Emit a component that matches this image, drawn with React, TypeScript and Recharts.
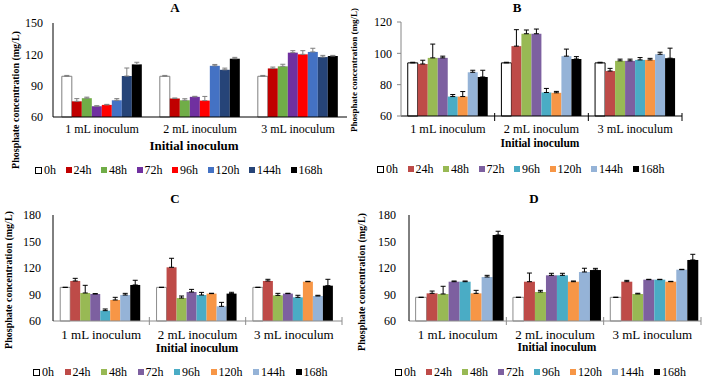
import React from 'react';
import { BarChart, Bar, XAxis, YAxis, ErrorBar } from 'recharts';

const SERIF = "'Liberation Serif', 'Times New Roman', serif";

const categories = ['1 mL inoculum', '2 mL inoculum', '3 mL inoculum'];
const seriesLabels = ['0h', '24h', '48h', '72h', '96h', '120h', '144h', '168h'];

const colorsA = ['#FFFFFF', '#C00000', '#70AD47', '#7030A0', '#FF0000', '#4472C4', '#264478', '#000000'];
const colorsBCD = ['#FFFFFF', '#BE4B48', '#98B954', '#7D60A0', '#4AACC5', '#F79646', '#95B3D7', '#000000'];

const ticksA = [60, 90, 120, 150];
const ticksB = [60, 80, 100, 120];
const ticksCD = [60, 90, 120, 150, 180];

// rows = inoculum groups, columns = 0h..168h
const valuesA = [
  [99, 75, 78, 70.3, 71.6, 76, 99.2, 110.4],
  [99, 77.7, 76, 79.3, 75.7, 109, 105.2, 115.8],
  [99, 106.5, 108.5, 121.6, 120, 122.3, 117.4, 118.4],
];
const errorsA = [
  [0.8, 2.6, 1, 0.5, 0.5, 1.6, 7.7, 2],
  [0.8, 0.5, 1.5, 0.5, 4, 1.3, 1.6, 1.3],
  [0.8, 1.3, 2, 1.9, 3.5, 3.5, 1.6, 0.6],
];

const valuesB = [
  [93.9, 93.2, 97.1, 97.1, 72.4, 72.4, 87.9, 84.9],
  [93.9, 104.6, 112.5, 112.5, 75, 74.8, 98.2, 96.4],
  [93.9, 88.7, 95.2, 95.2, 95.8, 95.8, 99.4, 96.9],
];
const errorsB = [
  [0.4, 2.4, 8.8, 1.1, 1.3, 3.2, 1.3, 4.3],
  [0.4, 10.5, 2.4, 3, 2.6, 0.9, 4.5, 1.5],
  [0.4, 1.7, 1.1, 1.1, 1.5, 1, 1.3, 6.4],
];

const valuesC = [
  [98.1, 105.3, 91.7, 90.6, 71.7, 83.8, 89.4, 100.8],
  [98.1, 120.8, 86, 92.8, 89.4, 91, 76.6, 91],
  [98.1, 105.3, 89, 91, 86.8, 104.5, 88.3, 100],
];
const errorsC = [
  [0, 3, 8.7, 0.4, 1.9, 3, 1.9, 5.3],
  [0, 10.2, 2.3, 3, 3, 0.4, 4.5, 1.5],
  [0, 1.9, 2.3, 0.4, 2.3, 0.4, 0.8, 7.2],
];

const valuesD = [
  [86.8, 91.3, 90.6, 104.5, 104.5, 91.3, 109.8, 157.4],
  [86.8, 104.5, 92.8, 111.7, 111.7, 104.5, 115.5, 117.7],
  [86.8, 104.5, 90.6, 106.8, 106.8, 104.5, 118.1, 129.1],
];
const errorsD = [
  [0, 2.6, 8.7, 0.8, 0.8, 3.4, 1.9, 4.2],
  [0, 9.8, 1.9, 2.3, 2.3, 0.8, 4.2, 1.9],
  [0, 1.5, 0.8, 0.4, 0.4, 0.4, 0.4, 6.4],
];

function buildData(values: number[][], errors: number[][]) {
  return categories.map((name, i) => {
    const row: any = { name };
    seriesLabels.forEach((_, j) => {
      row['v' + j] = values[i][j];
      row['e' + j] = [0, errors[i][j]];
    });
    return row;
  });
}

type PanelProps = {
  data: any[];
  colors: string[];
  domain: [number, number];
  ticks: number[];
  plotLeft: number;
  plotTop: number;
  plotW: number;
  plotH: number;
  catGap: string;
  yAxisColor: string;
  xAxisColor: string;
  yTickLine: boolean;
  yTickSize: number;
  yTickMargin: number;
  boundary: boolean;
  btUp: number;
  btDown: number;
  xLabelDy: number;
  xTickFont: number;
  zeroStroke: string;
  errColor: string;
};

function Panel(p: PanelProps) {
  const yw = 50, mt = 10, mr = 6, xh = 40;
  const width = yw + p.plotW + mr;
  const height = mt + p.plotH + xh;
  const band = p.plotW / 3;
  const renderXTick = (props: any) => {
    const { x, y, payload } = props;
    return (
      <g>
        {p.boundary && (
          <line x1={x + band / 2} x2={x + band / 2} y1={y - p.btUp} y2={y + p.btDown} stroke={p.xAxisColor} strokeWidth={1} />
        )}
        <text x={x} y={y + p.xLabelDy} dy="0.355em" textAnchor="middle" fontSize={p.xTickFont} fontFamily={SERIF} fill="#000">
          {payload.value}
        </text>
      </g>
    );
  };
  return (
    <div style={{ position: 'absolute', left: p.plotLeft - yw, top: p.plotTop - mt }}>
      <BarChart
        width={width}
        height={height}
        data={p.data}
        margin={{ top: mt, right: mr, left: 0, bottom: 0 }}
        barGap={0}
        barCategoryGap={p.catGap}
      >
        <XAxis
          dataKey="name"
          height={xh}
          tickLine={false}
          tickSize={0}
          tickMargin={0}
          axisLine={{ stroke: p.xAxisColor, strokeWidth: 1 }}
          tick={renderXTick}
          interval={0}
        />
        <YAxis
          width={yw}
          domain={p.domain}
          ticks={p.ticks}
          type="number"
          tickLine={p.yTickLine ? { stroke: p.yAxisColor } : false}
          tickSize={p.yTickSize}
          tickMargin={p.yTickMargin}
          axisLine={{ stroke: p.yAxisColor, strokeWidth: 1 }}
          tick={{ fontSize: 12, fill: '#000', fontFamily: SERIF }}
          interval={0}
        />
        {seriesLabels.map((s, j) => (
          <Bar
            key={s}
            dataKey={'v' + j}
            fill={p.colors[j]}
            stroke={j === 0 ? p.zeroStroke : 'none'}
            strokeWidth={1}
            isAnimationActive={false}
          >
            <ErrorBar dataKey={'e' + j} direction="y" width={2.5} stroke={p.errColor} strokeWidth={1} />
          </Bar>
        ))}
      </BarChart>
    </div>
  );
}

function Txt(props: { x: number; y: number; size: number; bold?: boolean; rotate?: boolean; children: React.ReactNode }) {
  return (
    <div
      style={{
        position: 'absolute',
        left: props.x,
        top: props.y,
        transform: `translate(-50%, -50%)${props.rotate ? ' rotate(-90deg)' : ''}`,
        whiteSpace: 'nowrap',
        fontFamily: SERIF,
        fontSize: props.size,
        fontWeight: props.bold ? 'bold' : 'normal',
        color: '#000',
        lineHeight: 1,
      }}
    >
      {props.children}
    </div>
  );
}

function Legend(props: { x: number; y: number; colors: string[]; gap: number; zeroBorder: string }) {
  return (
    <div
      style={{
        position: 'absolute',
        left: props.x,
        top: props.y - 7,
        height: 14,
        display: 'flex',
        alignItems: 'center',
        gap: props.gap,
        fontFamily: SERIF,
        fontSize: 12,
        color: '#000',
        whiteSpace: 'nowrap',
      }}
    >
      {seriesLabels.map((s, j) => (
        <div key={s} style={{ display: 'flex', alignItems: 'center' }}>
          <span
            style={{
              display: 'inline-block',
              width: j === 0 ? 5 : 6,
              height: j === 0 ? 5 : 6,
              background: props.colors[j],
              border: j === 0 ? `1px solid ${props.zeroBorder}` : 'none',
              marginRight: 2,
            }}
          />
          <span>{s}</span>
        </div>
      ))}
    </div>
  );
}

const dataA = buildData(valuesA, errorsA);
const dataB = buildData(valuesB, errorsB);
const dataC = buildData(valuesC, errorsC);
const dataD = buildData(valuesD, errorsD);

export default function App() {
  return (
    <div style={{ position: 'absolute', left: 0, top: 0, width: 705, height: 377, background: '#fff', overflow: 'hidden' }}>
      <Panel
        data={dataA} colors={colorsA} domain={[60, 150]} ticks={ticksA}
        plotLeft={53} plotTop={23} plotW={294} plotH={94} catGap="9%"
        yAxisColor="#000" xAxisColor="#000" yTickLine={false} yTickSize={5} yTickMargin={5}
        boundary={false} btUp={0} btDown={0} xLabelDy={12} xTickFont={12}
        zeroStroke="#7f7f7f" errColor="#7f7f7f"
      />
      <Panel
        data={dataB} colors={colorsBCD} domain={[60, 120]} ticks={ticksB}
        plotLeft={401} plotTop={22} plotW={281} plotH={94} catGap="7.2%"
        yAxisColor="#868686" xAxisColor="#000" yTickLine={true} yTickSize={4} yTickMargin={5}
        boundary={true} btUp={3} btDown={5} xLabelDy={13} xTickFont={12.3}
        zeroStroke="#000" errColor="#000"
      />
      <Panel
        data={dataC} colors={colorsBCD} domain={[60, 180]} ticks={ticksCD}
        plotLeft={53} plotTop={215} plotW={289} plotH={106} catGap="7.5%"
        yAxisColor="#000" xAxisColor="#8c8c8c" yTickLine={false} yTickSize={5} yTickMargin={7}
        boundary={true} btUp={4} btDown={4} xLabelDy={13} xTickFont={13}
        zeroStroke="#8c8c8c" errColor="#000"
      />
      <Panel
        data={dataD} colors={colorsBCD} domain={[60, 180]} ticks={ticksCD}
        plotLeft={409} plotTop={215} plotW={292} plotH={106} catGap="6.8%"
        yAxisColor="#000" xAxisColor="#8c8c8c" yTickLine={false} yTickSize={5} yTickMargin={8}
        boundary={true} btUp={4} btDown={4} xLabelDy={13} xTickFont={13}
        zeroStroke="#8c8c8c" errColor="#000"
      />

      <Txt x={175} y={7} size={13} bold>A</Txt>
      <Txt x={517} y={7} size={13} bold>B</Txt>
      <Txt x={175} y={198} size={13} bold>C</Txt>
      <Txt x={534} y={198} size={13} bold>D</Txt>

      <Txt x={194} y={145} size={13} bold>Initial inoculum</Txt>
      <Txt x={540} y={144} size={11.5} bold>Initial inoculum</Txt>
      <Txt x={197} y={348} size={12} bold>Initial inoculum</Txt>
      <Txt x={557} y={348} size={11.5} bold>Initial inoculum</Txt>

      <Txt x={16} y={100} size={10} bold rotate>Phosphate concentration (mg/L)</Txt>
      <Txt x={354} y={70} size={9} bold rotate>Phosphate concentration (mg/L)</Txt>
      <Txt x={9} y={280} size={10} bold rotate>Phosphate concentration (mg/L)</Txt>
      <Txt x={362} y={282} size={10} bold rotate>Phosphate concentration (mg/L)</Txt>

      <Legend x={35} y={170} colors={colorsA} gap={9.5} zeroBorder="#000" />
      <Legend x={377} y={169} colors={colorsBCD} gap={9.5} zeroBorder="#000" />
      <Legend x={33} y={372} colors={colorsBCD} gap={10.5} zeroBorder="#000" />
      <Legend x={395} y={372} colors={colorsBCD} gap={10} zeroBorder="#000" />
    </div>
  );
}
